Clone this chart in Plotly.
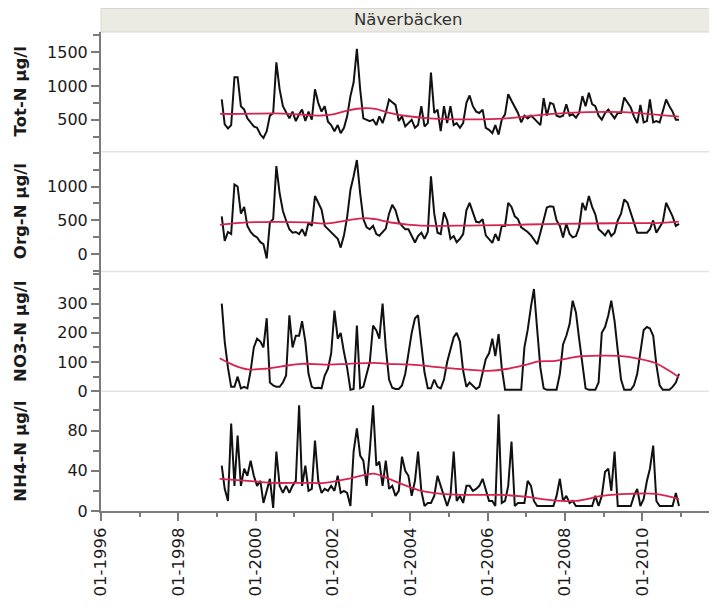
import pandas as pd
import plotly.graph_objects as go

# ---------------- data (monthly samples, Feb 1999 - Dec 2010) ----------------
sample_start = "1999-02-01"
n_samples = 143

tot_n = [800, 430, 370, 420, 1130, 1130, 700, 650, 520, 450, 400,
         380, 280, 230, 330, 560, 600, 1350, 950, 700, 600, 520, 620,
         480, 580, 650, 480, 620, 500, 950, 750, 620, 700, 470, 420,
         330, 420, 300, 380, 550, 850, 1050, 1550, 950, 520, 500, 480,
         500, 420, 550, 450, 600, 800, 760, 720, 480, 550, 400, 450,
         500, 380, 420, 700, 400, 450, 1200, 600, 650, 330, 700, 450,
         700, 420, 450, 380, 450, 750, 860, 700, 620, 600, 650, 380,
         350, 300, 420, 280, 500, 580, 880, 780, 680, 600, 460, 560,
         520, 560, 520, 470, 420, 820, 560, 750, 730, 560, 540, 560,
         730, 560, 580, 530, 600, 850, 700, 900, 730, 700, 560, 500,
         600, 650, 580, 520, 600, 600, 830, 760, 680, 550, 450, 720,
         460, 480, 800, 460, 480, 460, 650, 800, 700, 620, 500, 500]

org_n = [560, 200, 330, 300, 1030, 1000, 600, 700, 420, 330, 280,
         250, 180, 150, -60, 470, 520, 1300, 900, 640, 500, 370, 320,
         330, 300, 370, 270, 470, 420, 860, 760, 660, 420, 370, 320,
         270, 230, 100, 280, 550, 950, 1150, 1390, 900, 520, 400, 370,
         420, 300, 275, 330, 380, 600, 730, 650, 480, 420, 370, 370,
         280, 175, 270, 320, 230, 330, 1150, 600, 320, 300, 620, 500,
         230, 270, 180, 230, 300, 650, 760, 620, 480, 470, 520, 280,
         230, 170, 300, 200, 420, 420, 760, 700, 560, 520, 400, 370,
         330, 280, 220, 150, 320, 520, 690, 710, 700, 500, 420, 250,
         450, 300, 250, 270, 400, 760, 650, 860, 700, 590, 370, 330,
         280, 360, 270, 320, 500, 600, 810, 760, 600, 450, 320, 320,
         320, 320, 370, 500, 320, 400, 480, 760, 660, 560, 420, 450]

no3_n = [300, 170, 80, 15, 15, 50, 10, 15, 10, 70, 150,
         180, 170, 150, 250, 30, 20, 15, 15, 30, 54, 260, 150,
         190, 190, 240, 170, 60, 15, 10, 12, 10, 54, 77, 130,
         276, 180, 200, 134, 80, 5, 8, 225, 10, 15, 60, 100,
         225, 208, 180, 300, 150, 40, 12, 8, 8, 20, 60, 130,
         200, 250, 260, 160, 65, 10, 10, 40, 15, 10, 40, 100,
         140, 185, 200, 170, 70, 15, 30, 20, 8, 15, 65, 110,
         130, 180, 120, 196, 80, 5, 5, 5, 5, 5, 5, 150,
         210, 290, 350, 210, 80, 10, 5, 5, 5, 5, 60, 160,
         190, 230, 310, 270, 180, 88, 10, 5, 5, 5, 30, 200,
         220, 260, 310, 240, 140, 40, 5, 5, 5, 20, 60, 134,
         210, 220, 215, 190, 90, 20, 5, 5, 5, 15, 30, 60]

nh4_n = [45, 22, 10, 87, 25, 75, 25, 42, 35, 50, 35,
         25, 30, 8, 20, 32, 3, 59, 25, 18, 25, 18, 25,
         30, 105, 25, 45, 20, 22, 70, 30, 18, 22, 20, 25,
         20, 35, 18, 20, 18, 5, 59, 82, 55, 50, 25, 60,
         105, 45, 49, 25, 50, 22, 25, 15, 20, 54, 40, 35,
         15, 30, 59, 20, 5, 8, 8, 15, 35, 25, 15, 5,
         15, 59, 10, 15, 8, 25, 25, 20, 22, 25, 32, 20,
         10, 10, 5, 96, 8, 10, 25, 69, 5, 8, 8, 8,
         30, 25, 10, 5, 5, 5, 5, 5, 5, 15, 32, 10,
         15, 8, 10, 5, 5, 5, 5, 5, 5, 15, 5, 15,
         39, 42, 20, 59, 5, 5, 5, 5, 5, 15, 22, 5,
         12, 30, 42, 65, 10, 5, 5, 5, 5, 5, 18, 5]

# smoothed trend curves (decimal year, value)
tot_trend_t = [1999.08, 1999.6, 2000.5, 2001.2, 2001.7, 2002.0, 2002.4, 2002.8, 2003.1, 2003.4,
               2003.9, 2004.5, 2005.5, 2006.4, 2007.0, 2007.8, 2008.6, 2009.5, 2010.35, 2010.95]
tot_trend_v = [585, 585, 595, 575, 562, 580, 640, 670, 660, 610,
               555, 520, 505, 515, 550, 590, 612, 612, 575, 545]

org_trend_t = [1999.08, 1999.6, 2000.5, 2001.3, 2001.8, 2002.3, 2002.8, 2003.1, 2003.5, 2004.0,
               2004.6, 2005.5, 2006.4, 2007.0, 2008.6, 2009.5, 2010.35, 2010.95]
org_trend_v = [435, 465, 480, 472, 455, 495, 535, 518, 470, 435,
               420, 425, 430, 440, 455, 460, 462, 482]

no3_trend_t = [1999.07, 1999.46, 1999.8, 2000.24, 2000.67, 2001.19, 2001.79, 2002.39, 2003.09,
               2003.42, 2003.94, 2004.46, 2004.98, 2005.5, 2006.01, 2006.53, 2007.03, 2007.33,
               2007.76, 2008.02, 2008.36, 2008.88, 2009.4, 2009.92, 2010.35, 2010.69, 2010.95]
no3_trend_v = [113, 88, 75, 77, 85, 94, 91, 94, 97,
               94, 92, 86, 79, 74, 70, 77, 92, 102,
               104, 111, 119, 122, 121, 111, 96, 71, 48]

nh4_trend_t = [1999.07, 1999.8, 2000.41, 2001.19, 2001.79, 2002.39, 2002.83, 2003.09, 2003.25,
               2003.77, 2004.29, 2004.81, 2005.33, 2005.84, 2006.36, 2007.03, 2007.59, 2008.27,
               2008.97, 2009.66, 2010.35, 2010.95]
nh4_trend_v = [32, 30, 28, 28, 28, 32, 36, 37, 35,
               27, 20, 17, 16, 16, 16, 14, 11, 10,
               15, 17, 17, 12]

panel_titles = ["Tot-N µg/l", "Org-N µg/l", "NO3-N µg/l", "NH4-N µg/l"]
station = "Näverbäcken"
x_range = ["1996-01-01", "2011-11-20"]

# ---------------- helpers ----------------
def dec_year(y):
    yr = int(y)
    a = pd.Timestamp(yr, 1, 1)
    b = pd.Timestamp(yr + 1, 1, 1)
    return a + (b - a) * (y - yr)

dates = pd.date_range(sample_start, periods=n_samples, freq="MS") + pd.Timedelta(days=14)

series = [
    (tot_n, tot_trend_t, tot_trend_v),
    (org_n, org_trend_t, org_trend_v),
    (no3_n, no3_trend_t, no3_trend_v),
    (nh4_n, nh4_trend_t, nh4_trend_v),
]

FONT = "DejaVu Sans"
AX = "#7a7a7a"
BLACK = "#111111"
RED = "#d6234f"

fig = go.Figure()
for i, (vals, tt, tv) in enumerate(series):
    yname = "y" if i == 0 else f"y{i+1}"
    fig.add_trace(go.Scatter(x=dates, y=vals, mode="lines", xaxis="x", yaxis=yname,
                             line=dict(color=BLACK, width=2), showlegend=False,
                             hoverinfo="skip"))
    fig.add_trace(go.Scatter(x=[dec_year(t) for t in tt], y=tv, mode="lines", xaxis="x",
                             yaxis=yname, line=dict(color=RED, width=1.8, shape="spline",
                                                    smoothing=1.0),
                             showlegend=False, hoverinfo="skip"))

domains = [[0.75, 1.0], [0.5, 0.75], [0.25, 0.5], [0.0, 0.25]]
ranges = [[25, 1800], [-252, 1512], [0, 410], [0, 119]]
tickvals = [[500, 1000, 1500], [0, 500, 1000], [0, 100, 200, 300], [0, 40, 80]]
minor_dt = [250, 250, 50, 20]

common_y = dict(showline=True, linecolor=AX, linewidth=2, ticks="outside", ticklen=8,
                tickwidth=1.5, tickcolor=AX, showgrid=False, zeroline=False,
                tickfont=dict(family=FONT, size=16, color="#1a1a1a"), fixedrange=True,
                automargin=False)

layout_axes = {}
for i in range(4):
    key = "yaxis" if i == 0 else f"yaxis{i+1}"
    layout_axes[key] = dict(domain=domains[i], range=ranges[i], tickvals=tickvals[i],
                            anchor="x",
                            minor=dict(ticks="outside", ticklen=6, tickwidth=1.5,
                                       tickcolor=AX, dtick=minor_dt[i], tick0=0,
                                       showgrid=False),
                            **common_y)

# the page body adds an 8 px offset, so the figure is sized/margined to compensate
fig.update_layout(
    width=709, height=602,
    margin=dict(l=93, r=2, t=24, b=99),
    paper_bgcolor="white", plot_bgcolor="white",
    font=dict(family=FONT),
    xaxis=dict(type="date", range=x_range, anchor="y4", showline=True, linecolor=AX,
               linewidth=2, ticks="outside", ticklen=8, tickwidth=1.5, tickcolor=AX,
               tickformat="%m-%Y", dtick="M24", tick0="1996-01-01", tickangle=-90,
               tickfont=dict(family=FONT, size=16.5, color="#1a1a1a"),
               minor=dict(ticks="outside", ticklen=4, tickwidth=1.5, tickcolor=AX,
                          dtick="M12", tick0="1996-01-01", showgrid=False),
               showgrid=False, zeroline=False, fixedrange=True, automargin=False),
    **layout_axes,
)

shapes = []
# header strip
shapes.append(dict(type="rect", xref="paper", yref="paper", x0=0, x1=1 + 2 / 614,
                   y0=1.0, y1=1 + 23.5 / 479, fillcolor="#ebeae3",
                   line=dict(color="#d8d7cd", width=1), layer="below"))
# panel separators
for yb in [0.25, 0.5, 0.75]:
    shapes.append(dict(type="line", xref="paper", yref="paper", x0=0, x1=1, y0=yb, y1=yb,
                       line=dict(color="#e2e2e2", width=1.5), layer="below"))
fig.update_layout(shapes=shapes)

annotations = [dict(text=station, xref="paper", yref="paper", x=0.5, y=1 + 12.5 / 479,
                    xanchor="center", yanchor="middle", showarrow=False,
                    font=dict(family=FONT, size=16.5, color="#333333"))]
centers = [0.875, 0.625, 0.375, 0.125]
for t, c in zip(panel_titles, centers):
    annotations.append(dict(text="<b>" + t + "</b>", xref="paper", yref="paper",
                            x=(20.5 - 101) / 614, y=c, xanchor="center", yanchor="middle",
                            textangle=-90, showarrow=False,
                            font=dict(family=FONT, size=16.5, color="#1a1a1a")))
fig.update_layout(annotations=annotations)

fig.write_html("out.html")
